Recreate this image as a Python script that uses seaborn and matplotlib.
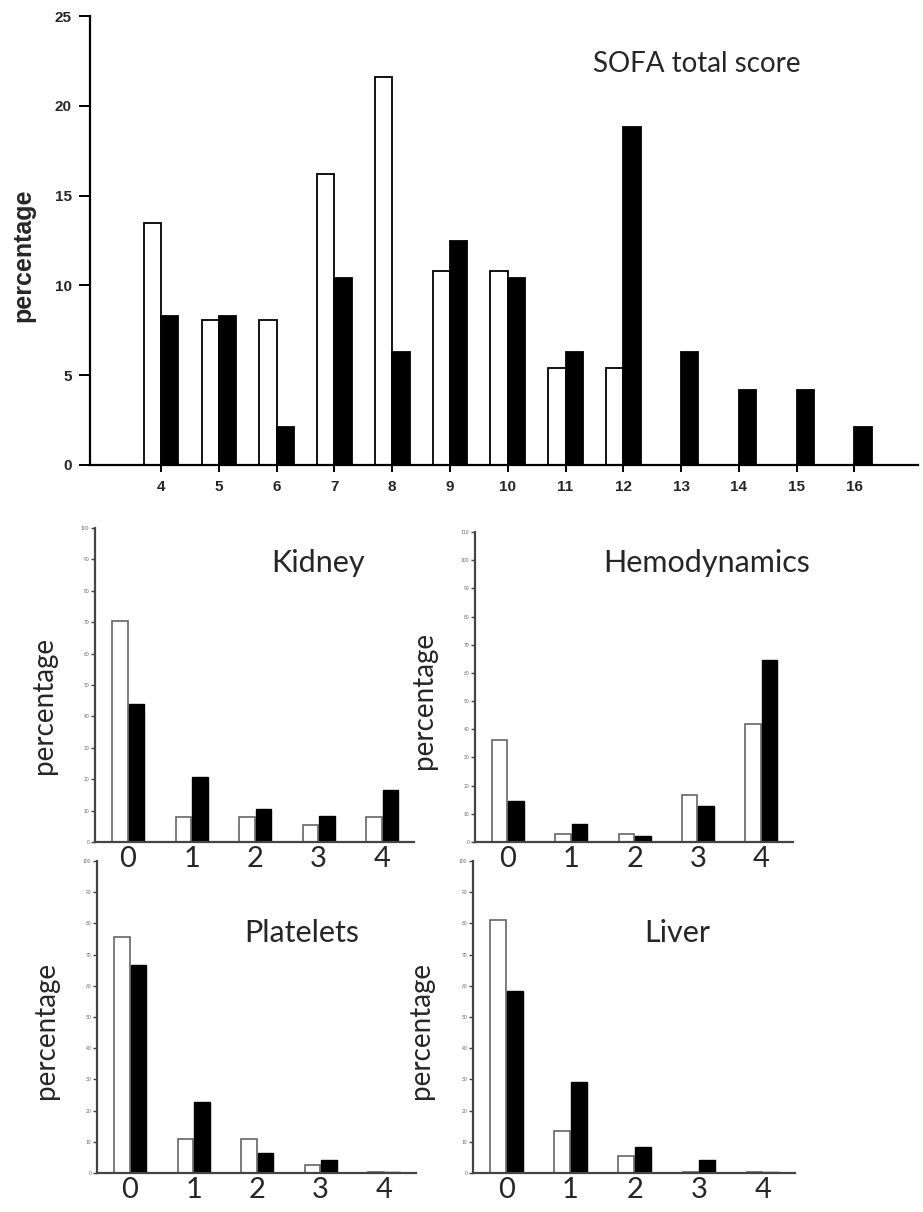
import numpy as np
import pandas as pd
import matplotlib
matplotlib.use("Agg")
import matplotlib.pyplot as plt
import seaborn as sns

sns.set_theme(style="white")
plt.rcParams['font.family'] = ['Lato', 'DejaVu Sans']

# ---- data (percentages) ----
sofa_scores = ["4", "5", "6", "7", "8", "9", "10", "11", "12", "13", "14", "15", "16"]
sofa_white = [13.5, 8.1, 8.1, 16.2, 21.6, 10.8, 10.8, 5.4, 5.4, 0, 0, 0, 0]
sofa_black = [8.3, 8.3, 2.1, 10.4, 6.3, 12.5, 10.4, 6.3, 18.8, 6.3, 4.2, 4.2, 2.1]

organ_scores = ["0", "1", "2", "3", "4"]
kidney_white = [70.3, 8.1, 8.1, 5.4, 8.1]
kidney_black = [43.8, 20.8, 10.4, 8.3, 16.7]
hemo_white = [36.1, 2.9, 2.7, 16.8, 41.9]
hemo_black = [14.7, 6.3, 2.2, 12.6, 64.7]
platelets_white = [75.7, 10.8, 10.8, 2.7, 0.4]
platelets_black = [66.7, 22.9, 6.3, 4.2, 0.4]
liver_white = [81.1, 13.5, 5.4, 0.4, 0.4]
liver_black = [58.3, 29.2, 8.3, 4.2, 0.4]

groups = ["white", "black"]
palette = {"white": "white", "black": "black"}


def long_df(cats, white, black):
    return pd.DataFrame({
        "score": list(cats) * 2,
        "pct": list(white) + list(black),
        "group": ["white"] * len(cats) + ["black"] * len(cats),
    })


W, H = 923, 1212
fig = plt.figure(figsize=(W / 100, H / 100), dpi=100)


def rect(left, right, top, bottom):
    return [left / W, 1 - bottom / H, (right - left) / W, (bottom - top) / H]


# ==========================================
# SOFA total score
# ==========================================
ax = fig.add_axes(rect(90, 918, 16, 465))
ax.patch.set_alpha(0)
sns.barplot(data=long_df(sofa_scores, sofa_white, sofa_black), x="score", y="pct",
            hue="group", hue_order=groups, order=sofa_scores, palette=palette,
            width=0.6, edgecolor="black", linewidth=1.3, saturation=1,
            legend=False, ax=ax)
ax.set_xlim(-1.23, 13.1)
ax.set_ylim(0, 25)
ax.set_yticks(np.arange(0, 26, 5))
ax.set_xlabel("")
ax.set_ylabel("percentage", fontsize=18, fontweight="bold", family=["Liberation Sans"])
ax.yaxis.set_label_coords(-0.066, 0.468)
sns.despine(ax=ax)
for s in ["left", "bottom"]:
    ax.spines[s].set_linewidth(1.6)
    ax.spines[s].set_color("black")
ax.tick_params(axis="y", direction="out", length=8, width=1.4, color="black",
               left=True, pad=5)
ax.tick_params(axis="x", direction="out", length=5, width=1.4, color="black",
               bottom=True, pad=6)
for lab in ax.get_xticklabels() + ax.get_yticklabels():
    lab.set_fontfamily(["Liberation Sans"])
    lab.set_fontweight("bold")
    lab.set_fontsize(11)
fig.text(697 / W, 1 - 64 / H, "SOFA total score", ha="center", va="center", fontsize=20)


# ==========================================
# organ sub-scores
# ==========================================
def organ_panel(box, title, title_xy, white, black, ymax, lab_y):
    a = fig.add_axes(rect(*box))
    a.patch.set_alpha(0)
    sns.barplot(data=long_df(organ_scores, white, black), x="score", y="pct",
                hue="group", hue_order=groups, order=organ_scores, palette=palette,
                width=0.52, gap=0.06, edgecolor="black", linewidth=1.0,
                saturation=1, legend=False, ax=a)
    for p in a.patches:
        if p.get_facecolor()[0] > 0.5:
            p.set_edgecolor("#666666")
            p.set_linewidth(1.2)
    a.set_xlim(-0.52, 4.5)
    a.set_ylim(0, ymax)
    a.set_yticks(np.arange(0, ymax + 1, 10))
    a.set_xlabel("")
    a.set_ylabel("percentage", fontsize=20)
    a.yaxis.set_label_coords(-0.12, lab_y)
    sns.despine(ax=a)
    for s in ["left", "bottom"]:
        a.spines[s].set_linewidth(1.6)
        a.spines[s].set_color("#444444")
    a.tick_params(axis="y", direction="out", length=3, width=1, color="#444444",
                  left=True, labelsize=3.5, labelcolor="#666666", pad=1)
    a.tick_params(axis="x", length=0, labelsize=21, pad=3)
    fig.text(title_xy[0] / W, 1 - title_xy[1] / H, title, ha="center", va="center",
             fontsize=22)
    return a


organ_panel((95, 414, 528, 842), "Kidney", (318, 563), kidney_white, kidney_black, 100, 0.436)
organ_panel((475, 793, 532, 842), "Hemodynamics", (707, 563), hemo_white, hemo_black, 110, 0.457)
organ_panel((97, 416, 861, 1173), "Platelets", (302, 933), platelets_white, platelets_black, 100, 0.458)
organ_panel((473, 795, 861, 1173), "Liver", (677, 933), liver_white, liver_black, 100, 0.458)

fig.savefig("out.png", dpi=100)
